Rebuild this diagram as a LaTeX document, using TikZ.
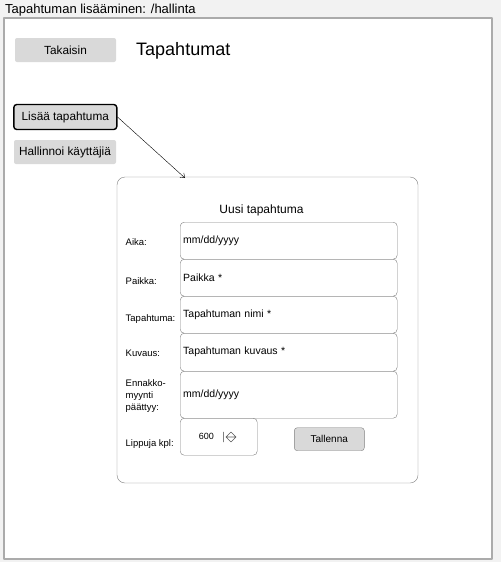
\documentclass[tikz,border=0pt]{standalone}
\usepackage{fontspec}
\setmainfont{Liberation Sans}
\usetikzlibrary{arrows.meta}
\definecolor{bggray}{HTML}{F2F2F2}
\definecolor{framegray}{HTML}{ABABAB}
\definecolor{btngray}{HTML}{D9D9D9}
\definecolor{linegray}{HTML}{808080}
\begin{document}
\begin{tikzpicture}[x=1pt, y=-1pt, line join=round, line cap=round,
    btn/.style={fill=btngray, rounded corners=2pt, inner sep=0pt, minimum width=101pt, minimum height=24pt, font=\fontsize{11.8}{14}\selectfont},
    field/.style={draw=linegray, rounded corners=4pt, anchor=north west, inner sep=3pt, text width=211pt, align=left, minimum height=37pt, font=\fontsize{10.5}{12}\selectfont},
    lbl/.style={anchor=base west, inner sep=0pt, font=\fontsize{9.5}{11.7}\selectfont}]
    \fill[bggray] (0,0) rectangle (501,562);
    \useasboundingbox (0,0) rectangle (501,562);
    \node[anchor=base west, inner sep=0pt, font=\fontsize{13}{15}\selectfont] (title) at (5,13.5) {Tapahtuman lisääminen: /hallinta};
    \draw[framegray, fill=white, line width=1.2pt] (4,18) rectangle (492,559);
    % left menu
    \node[btn] (takaisin) at (65.5,50) {Takaisin};
    \node[anchor=base west, inner sep=0pt, font=\fontsize{18}{21}\selectfont] (otsikko) at (136,55) {Tapahtumat};
    \node[btn, draw=black, line width=1.4pt, rounded corners=3pt, minimum width=103pt, minimum height=25pt] (lisaa) at (65.3,117) {Lisää tapahtuma};
    \node[btn, minimum width=102pt] (hallinnoi) at (65,152) {Hallinnoi käyttäjiä};
    % form
    \draw[linegray, fill=white, rounded corners=8pt] (117,177) rectangle (418,483);
    \coordinate (tip) at (185,178);
    \draw[-{Straight Barb[length=4pt,width=6pt]}] (lisaa.east) -- (tip);
    \node[font=\fontsize{12}{14}\selectfont] (uusi) at (261.5,210.5) {Uusi tapahtuma};
    \node[field] (aika) at (180,222) {mm/dd/yyyy};
    \node[field] (paikka) at (180,259) {Paikka *};
    \node[field] (nimi) at (180,296) {Tapahtuman nimi *};
    \node[field, minimum height=38pt] (kuvaus) at (180,333) {Tapahtuman kuvaus *};
    \node[field, minimum height=47pt] (ennakko) at (180,371) {mm/dd/yyyy};
    \node[field, text width=71pt] (lippuja) at (180,418) {};
    \foreach \n/\y/\t in {aika/245.7/Aika:, paikka/284/Paikka:, nimi/321.7/Tapahtuma:, kuvaus/356.7/Kuvaus:, lippuja/446/Lippuja kpl:}
        \node[lbl] (l\n) at (125.5,\y) {\t};
    \node[lbl, anchor=west, align=left] (lennakko) at (125.5,396) {Ennakko-\\myynti\\päättyy:};
    % spinner
    \node[font=\fontsize{9}{11}\selectfont] (maara) at (206.3,436.5) {600};
    \draw[linegray] (223,432) -- (223,442);
    \draw[black!65, line width=0.6pt] (226,437) -- (231,432) -- (236,437) -- (231,442) -- cycle (226,437) -- (236,437);
    \node[btn, draw=linegray, rounded corners=3pt, minimum width=70pt, minimum height=23pt, font=\fontsize{10}{12}\selectfont] (tallenna) at (329.3,439.2) {Tallenna};
\end{tikzpicture}
\end{document}
